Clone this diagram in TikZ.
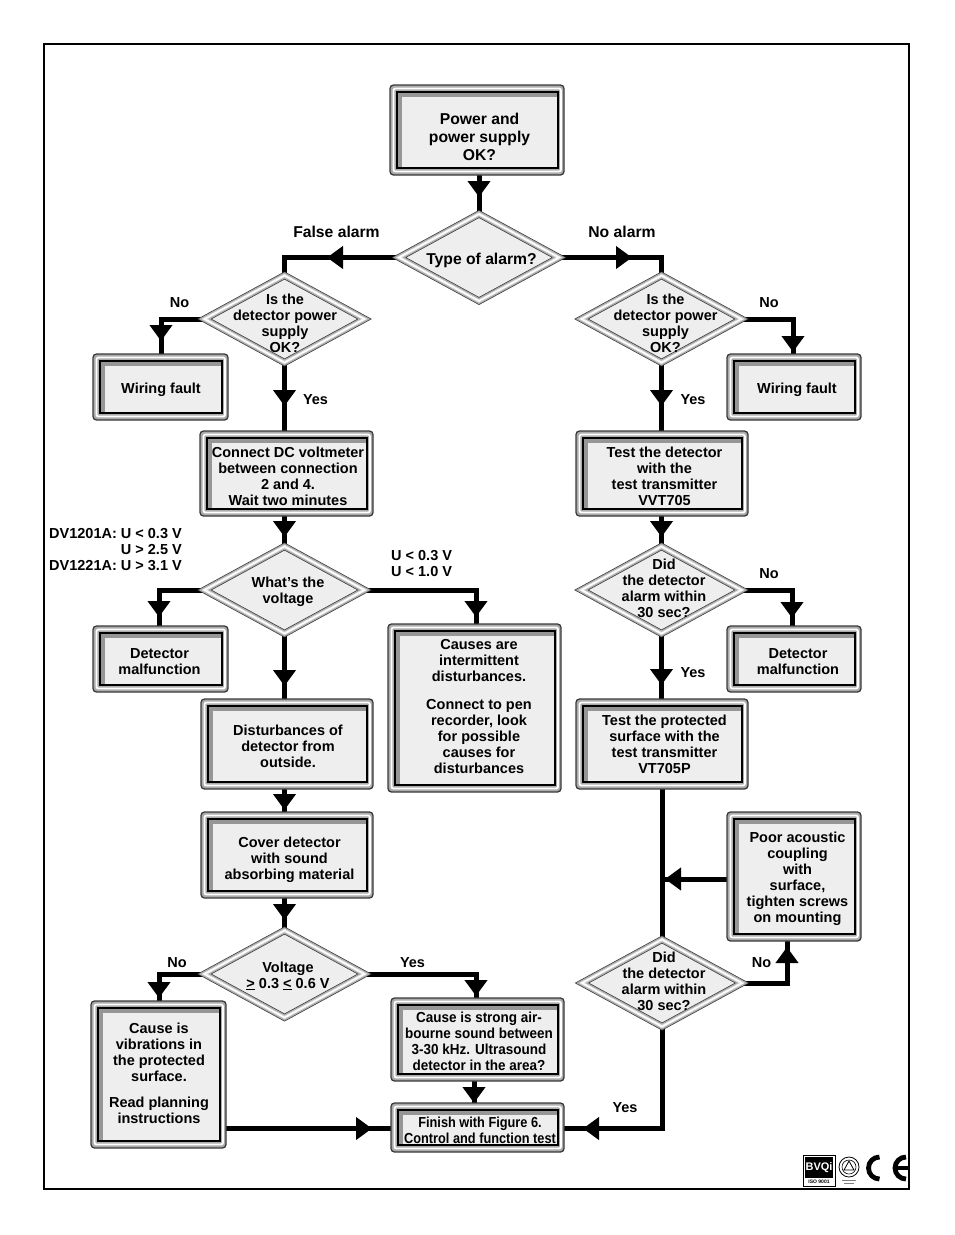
\documentclass[tikz,border=0pt]{standalone}
\usepackage{fontspec}
\setmainfont{Liberation Sans}
\newfontfamily\narrowA[FakeStretch=0.93]{Liberation Sans}
\newfontfamily\narrowB[FakeStretch=0.88]{Liberation Sans}
\usetikzlibrary{arrows.meta, shapes.geometric, decorations.markings, backgrounds}

\definecolor{boxgray}{HTML}{EEEEEE}
\definecolor{ringgray}{HTML}{ABABAB}
\definecolor{bargray}{HTML}{969696}
\definecolor{edgegray}{HTML}{3A3A3A}

% frame round a text node, moved by (#2,#3) from the node
\newcommand{\bevelbox}[3]{
	\draw[edgegray, line width=1.3pt, fill=ringgray, rounded corners=3.5pt]
		([shift={(-12+#2,-12+#3)}]#1.north west) rectangle ([shift={(7+#2,8+#3)}]#1.south east);
	\draw[black, line width=1.2pt, fill=boxgray]
		([shift={(-5+#2,-5+#3)}]#1.north west) rectangle ([shift={(1+#2,1+#3)}]#1.south east);
	\draw[white, line width=1.8pt, rounded corners=2pt]
		([shift={(-8.5+#2,-8.5+#3)}]#1.north west) rectangle ([shift={(4+#2,4.5+#3)}]#1.south east);
	\fill[bargray] ([shift={(-4.4+#2,-4.4+#3)}]#1.north west) rectangle ([shift={(0.4+#2,#3)}]#1.north east);
	\fill[bargray] ([shift={(-4.4+#2,-4.4+#3)}]#1.north west) rectangle ([shift={(#2,0.4+#3)}]#1.south west);
}

\tikzset{
	bigtxt/.style={font=\bfseries\fontsize{15.7}{18}\selectfont},
	smalltxt/.style={font=\bfseries\fontsize{14.5}{16}\selectfont},
	box/.style={rectangle, align=center, inner sep=0pt, outer sep=0pt, smalltxt},
	dia/.style={diamond, minimum width=160pt, minimum height=87pt, inner sep=0pt, outer sep=0pt,
		preaction={fill=boxgray},
		preaction={draw=edgegray, line width=7pt},
		preaction={draw=ringgray, line width=5.6pt},
		preaction={draw=gray!25, line width=3pt},
		draw=white, line width=1.4pt},
	every label/.style={align=center, inner sep=0pt, smalltxt},
	tag/.style={inner sep=0pt, smalltxt},
	flow/.style={line width=5pt},
	flowtip/.style={postaction={decorate, decoration={markings,
		mark=at position #1 with {\arrow{Triangle[length=16pt,width=22pt]}}}}},
	pageframe/.style={line width=1.4pt}
}

\begin{document}
\begin{tikzpicture}[x=1pt, y=-1pt]
	\useasboundingbox (0,0) rectangle (954,1235);
	\draw[pageframe] (44,44) rectangle (909,1189);

	\node[box, bigtxt, minimum width=155pt, minimum height=70pt] (power) at (479.5,132) {\rule{0pt}{22pt}Power and\\power supply\\OK?};
	\node[dia, label={[bigtxt, xshift=2.5pt, yshift=-2.5pt]center:Type of alarm?}] (type) at (479,257.5) {};

	\node[dia, label={[xshift=0.5pt, yshift=-4pt]center:Is the\\detector power\\supply\\OK?}] (isL) at (284.5,319) {};
	\node[dia, label={[xshift=4pt, yshift=-4pt]center:Is the\\detector power\\supply\\OK?}] (isR) at (661.5,319) {};
	\node[box, minimum width=116pt, minimum height=46pt] (wiringL) at (161,390) {Wiring fault};
	\node[box, minimum width=115pt, minimum height=46pt] (wiringR) at (797,390) {Wiring fault};

	\node[box, minimum width=154pt, minimum height=65pt] (connect) at (288,476.5) {Connect DC voltmeter\\between connection\\2 and 4.\\Wait two minutes};
	\node[box, minimum width=153pt, minimum height=65pt] (test) at (664.5,476.5) {Test the detector\\with the\\test transmitter\\VVT705};

	\node[dia, label={[xshift=3.5pt, yshift=-2pt]center:What's the\\voltage}] (voltage) at (284.5,590) {};
	\node[dia, label={[xshift=2.5pt, yshift=2pt]center:Did\\the detector\\alarm within\\30 sec?}] (didA) at (661.5,590) {};
	\node[box, minimum width=116pt, minimum height=46pt] (malL) at (159.5,662) {Detector\\malfunction};
	\node[box, minimum width=115pt, minimum height=46pt] (malR) at (798,662) {Detector\\malfunction};
	\node[box, minimum width=154pt, minimum height=148pt] (causes) at (479,706) {Causes are\\intermittent\\disturbances.\\[12pt]Connect to pen\\recorder, look\\for possible\\causes for\\disturbances};

	\node[box, minimum width=153pt, minimum height=70pt] (disturb) at (288,746) {Disturbances of\\detector from\\outside.};
	\node[box, minimum width=153pt, minimum height=70pt] (prot) at (664.5,744.5) {Test the protected\\surface with the\\test transmitter\\VT705P};
	\node[box, minimum width=153pt, minimum height=66pt] (cover) at (289.5,860) {Cover detector\\with sound\\absorbing material};
	\node[box, minimum width=115pt, minimum height=109pt] (poor) at (797.5,879) {Poor acoustic\\coupling\\with\\surface,\\tighten screws\\on mounting};

	\node[dia, label={[xshift=3.5pt, yshift=-2pt]center:Voltage\\\underline{>} 0.3 \underline{<} 0.6 V}] (volt) at (284.5,974) {};
	\node[dia, label={[xshift=2pt, yshift=2pt]center:Did\\the detector\\alarm within\\30 sec?}] (didB) at (662,983) {};
	\node[box, minimum width=116pt, minimum height=127pt] (vib) at (159,1073.5) {Cause is\\vibrations in\\the protected\\surface.\\[10pt]Read planning\\instructions};
	\node[box, font=\narrowA\bfseries\fontsize{14.5}{16}\selectfont, minimum width=154pt, minimum height=63pt] (strong) at (479,1041.5) {Cause is strong air-\\bourne sound between\\3-30 kHz. Ultrasound\\detector in the area?};
	\node[box, font=\narrowB\bfseries\fontsize{14.5}{16}\selectfont, minimum width=154pt, minimum height=29pt] (finish) at (480,1130.5) {Finish with Figure 6.\\Control and function test};

	\coordinate (junc) at (662,879);

	\node[tag, bigtxt] (falsetag) at (336.5,231.5) {False alarm};
	\node[tag, bigtxt] (notag) at (622,231.5) {No alarm};
	\node[tag] (no1) at (179.5,303) {No};
	\node[tag] (no2) at (769,303) {No};
	\node[tag] (yes1) at (315.5,400) {Yes};
	\node[tag] (yes2) at (693,400) {Yes};
	\node[tag, align=right, anchor=north east] (dvtag) at (182,528) {DV1201A: U < 0.3 V\\U > 2.5 V\\DV1221A: U > 3.1 V};
	\node[tag, align=left, anchor=north west] (utag) at (391,550) {U < 0.3 V\\U < 1.0 V};
	\node[tag] (no3) at (769,574) {No};
	\node[tag] (yes3) at (693,673) {Yes};
	\node[tag] (no4) at (177,963) {No};
	\node[tag] (yes4) at (412.5,963) {Yes};
	\node[tag] (no5) at (761.5,963) {No};
	\node[tag] (yes5) at (625,1108) {Yes};

	\begin{pgfonlayer}{background}
		\draw[flow, flowtip=30pt] (power.south -| type.north) -- (type.north);
		\draw[flow, flowtip=72pt] (type.west) -| (isL.north);
		\draw[flow, flowtip=73pt] (type.east) -| (isR.north);
		\draw[flow, flowtip=65.5pt] (isL.west) -| (wiringL.north);
		\draw[flow, flowtip=84.5pt] (isR.east) -| ([xshift=-4pt]wiringR.north);
		\draw[flow, flowtip=43.5pt] (isL.south) -- (isL.south |- connect.north);
		\draw[flow, flowtip=43.5pt] (isR.south) -- (isR.south |- test.north);
		\draw[flow, flowtip=28pt] (connect.south -| voltage.north) -- (voltage.north);
		\draw[flow, flowtip=28pt] (test.south -| didA.north) -- (didA.north);
		\draw[flow, flowtip=72.5pt] (voltage.west) -| ([xshift=-0.5pt]malL.north);
		\draw[flow, flowtip=138.5pt] (voltage.east) -| ([xshift=-3pt]causes.north);
		\draw[flow, flowtip=52.5pt] (voltage.south) -- (voltage.south |- disturb.north);
		\draw[flow, flowtip=78.5pt] (didA.east) -| ([xshift=-6pt]malR.north);
		\draw[flow, flowtip=51.5pt] (didA.south) -- (didA.south |- prot.north);
		\draw[flow, flowtip=29pt] (disturb.south -| volt.north) -- (volt.north |- cover.north);
		\draw[flow, flowtip=27pt] (cover.south -| volt.north) -- (volt.north);
		\draw[flow, flowtip=69.5pt] (volt.west) -| (vib.north);
		\draw[flow, flowtip=133.5pt] (volt.east) -| ([xshift=-3pt]strong.north);
		\draw[flow, flowtip=30pt] ([xshift=-5pt]strong.south) -- ([xshift=-6pt]finish.north);
		\draw[flow, flowtip=155pt] (vib.east |- finish.west) ++(0,-2) -- ([yshift=2pt]finish.west);
		\draw[flow, flowtip=181pt] (didB.south) |- ([yshift=2pt]finish.east);
		\draw[flow] (prot.south -| didB.north) -- (didB.north);
		\draw[flow, flowtip=75pt] (poor.west) -- (junc);
		\draw[flow, flowtip=81pt] (didB.east) -| ([xshift=-10.5pt]poor.south);

		\foreach \n/\dx/\dy in {power/0/0, wiringL/2/-1, wiringR/-0.5/-1, connect/1/-1, test/0/-1,
				malL/3.5/-1, malR/-1.5/-1, causes/-2/4, disturb/1.5/0, prot/0/1.5, cover/0/-3,
				poor/-1/-0.5, vib/2/3, strong/1/0, finish/0/-1}
			\bevelbox{\n}{\dx}{\dy};
	\end{pgfonlayer}

	% marks in the corner
	\draw[line width=0.8pt] (803,1155) rectangle (835,1186);
	\fill (805,1157) rectangle (833,1178);
	\node[inner sep=0pt, white, font=\bfseries\fontsize{11}{12}\selectfont] (bvqi) at (819,1167.5) {BVQi};
	\node[inner sep=0pt, font=\bfseries\fontsize{5}{6}\selectfont] (iso) at (819,1182) {ISO 9001};
	\draw[line width=0.8pt, fill=white] (849,1167) circle (10pt);
	\draw[line width=0.6pt] (849,1167) circle (7pt);
	\draw[line width=0.8pt] (849,1161) -- (854,1170) -- (844,1170) -- cycle;
	\draw[line width=1pt, gray] (842,1180) -- (856,1180) (844,1183) -- (854,1183);
	\begin{scope}
		\clip (860,1150) rectangle (909,1186);
		\draw[line width=4.8pt] (879.5,1157) arc[start angle=90, end angle=270, radius=11pt];
		\draw[line width=4.8pt] (906,1157) arc[start angle=90, end angle=270, radius=11pt];
		\draw[line width=3.5pt] (894,1168) -- (909,1168);
	\end{scope}
\end{tikzpicture}
\end{document}
